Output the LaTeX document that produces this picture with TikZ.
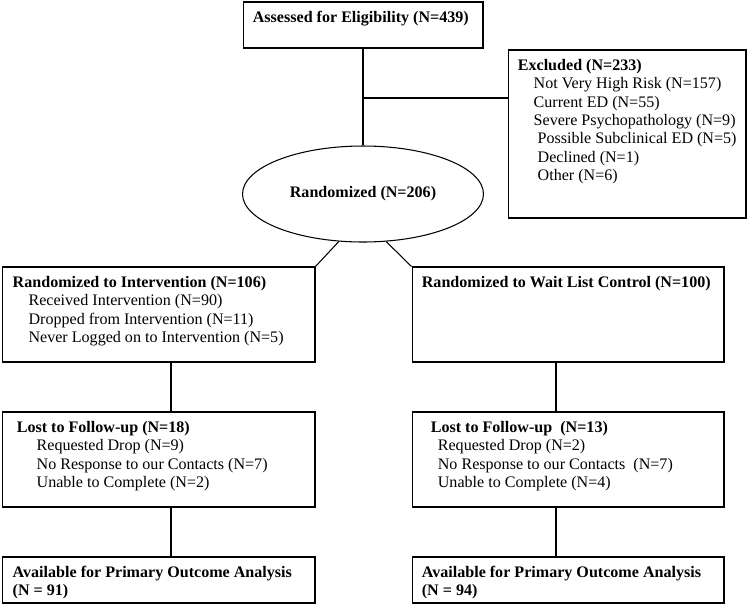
\documentclass[tikz,border=0pt]{standalone}
\usepackage{fontspec}
\setmainfont{Liberation Serif}
\usetikzlibrary{positioning, shapes.geometric}

\begin{document}
\begin{tikzpicture}[x=0.02cm, y=-0.02cm,
    box/.style={draw, rectangle, line width=0.6pt, inner sep=0pt},
    txt/.style={inner sep=0pt, align=left, font=\fontsize{9.15}{10.45}\selectfont},
    link/.style={line width=0.6pt}]
    \useasboundingbox (0,0) rectangle (750,606);
    % Boxes
    \node[box, minimum width=4.8cm, minimum height=0.92cm] (assess) at (363,25) {};
    \node[box, minimum width=4.76cm, minimum height=3.36cm] (excl) at (627,134) {};
    \node[draw, ellipse, line width=0.6pt, minimum width=4.82cm, minimum height=1.92cm, font=\fontsize{9.15}{10.45}\selectfont\bfseries] (rand) at (363,194) {Randomized (N=206)};
    \node[box, minimum width=6.26cm, minimum height=1.9cm] (interv) at (158.5,314.5) {};
    \node[box, minimum width=6.24cm, minimum height=1.9cm] (wait) at (568,314.5) {};
    \node[box, minimum width=6.26cm, minimum height=1.9cm] (lostA) at (158.5,459.5) {};
    \node[box, minimum width=6.24cm, minimum height=1.9cm] (lostB) at (568,459.5) {};
    \node[box, minimum width=6.26cm, minimum height=0.92cm] (availA) at (158.5,580) {};
    \node[box, minimum width=6.24cm, minimum height=0.92cm] (availB) at (568,580) {};

    % Texts
    \node[txt, below right=5.3pt and 5.7pt of assess.north west] (assessT) {\textbf{Assessed for Eligibility (N=439)}};
    \node[txt, below right=5.3pt and 5.7pt of excl.north west] (exclT) {\textbf{Excluded (N=233)}\\
        \hspace*{9pt}Not Very High Risk (N=157)\\
        \hspace*{9pt}Current ED (N=55)\\
        \hspace*{9pt}Severe Psychopathology (N=9)\\
        \hspace*{11.3pt}Possible Subclinical ED (N=5)\\
        \hspace*{11.3pt}Declined (N=1)\\
        \hspace*{11.3pt}Other (N=6)};
    \node[txt, below right=5.3pt and 6.2pt of interv.north west] (intervT) {\textbf{Randomized to Intervention (N=106)}\\
        \hspace*{9pt}Received Intervention (N=90)\\
        \hspace*{9pt}Dropped from Intervention (N=11)\\
        \hspace*{9pt}Never Logged on to Intervention (N=5)};
    \node[txt, below right=5.3pt and 5.7pt of wait.north west] (waitT) {\textbf{Randomized to Wait List Control (N=100)}};
    \node[txt, below right=5.3pt and 8.5pt of lostA.north west] (lostAT) {\textbf{Lost to Follow-up (N=18)}\\
        \hspace*{11.3pt}Requested Drop (N=9)\\
        \hspace*{11.3pt}No Response to our Contacts (N=7)\\
        \hspace*{11.3pt}Unable to Complete (N=2)};
    \node[txt, below right=5.3pt and 10.8pt of lostB.north west] (lostBT) {\textbf{Lost to Follow-up\ \ (N=13)}\\
        \hspace*{4pt}Requested Drop (N=2)\\
        \hspace*{4pt}No Response to our Contacts\ \ (N=7)\\
        \hspace*{4pt}Unable to Complete (N=4)};
    \node[txt, below right=5.3pt and 6.2pt of availA.north west] (availAT) {\textbf{Available for Primary Outcome Analysis}\\
        \textbf{(N = 91)}};
    \node[txt, below right=5.3pt and 5.7pt of availB.north west] (availBT) {\textbf{Available for Primary Outcome Analysis}\\
        \textbf{(N = 94)}};

    % Lines
    \coordinate (split) at (363,98);
    \draw[link] (assess) -- (rand);
    \draw[link] (split) -- (split -| excl.west);
    \draw[link] (rand.243) -- (interv.north east);
    \draw[link] (rand.296) -- (wait.north west);
    \draw[link] ([xshift=0.25cm]interv.south) -- ([xshift=0.25cm]lostA.north);
    \draw[link] ([xshift=0.25cm]lostA.south) -- ([xshift=0.25cm]availA.north);
    \draw[link] ([xshift=-0.24cm]wait.south) -- ([xshift=-0.24cm]lostB.north);
    \draw[link] ([xshift=-0.24cm]lostB.south) -- ([xshift=-0.24cm]availB.north);
\end{tikzpicture}
\end{document}
